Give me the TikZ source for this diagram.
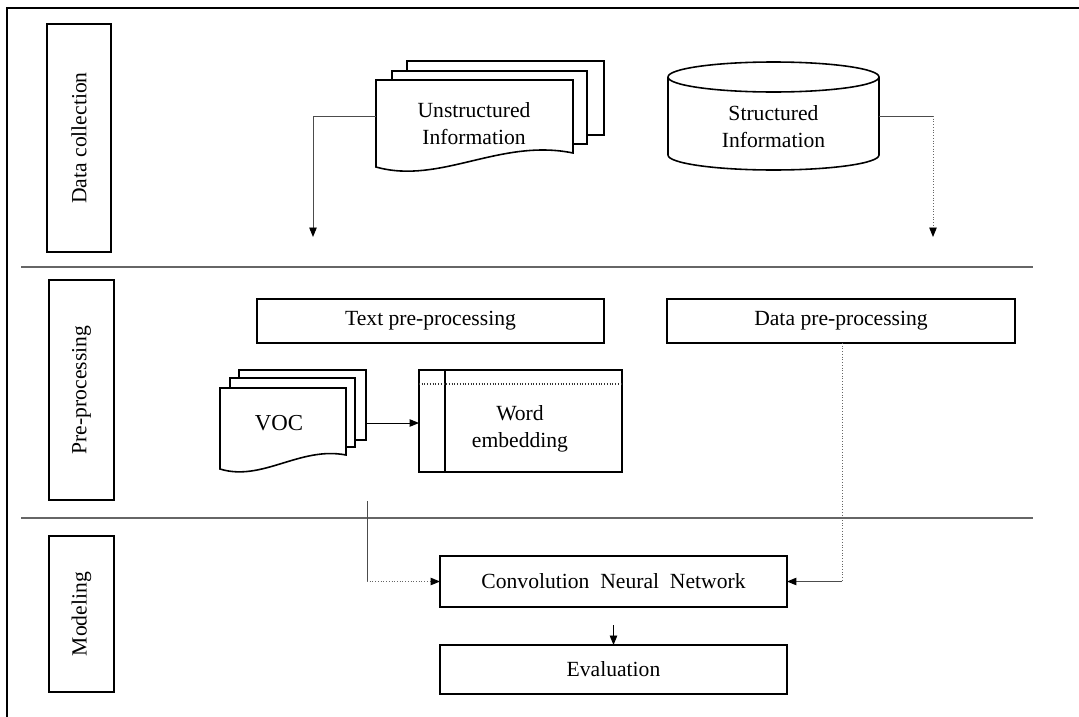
\documentclass[tikz,border=0pt]{standalone}
\usepackage{fontspec}
\setmainfont{Liberation Serif}
\usetikzlibrary{arrows.meta}
\begin{document}
\begin{tikzpicture}[x=0.02cm,y=-0.02cm,
  every node/.style={font=\rmfamily\fontsize{12.3}{15.3}\selectfont, inner sep=0pt, outer sep=0pt},
  box/.style={draw=black, line width=0.9pt, fill=white, align=center},
  sidebox/.style={draw=black, line width=0.9pt, rotate=90, minimum height=1.30cm},
  docline/.style={draw=black, line width=0.9pt, fill=white},
  sep/.style={draw=black!60, line width=0.8pt},
  conn/.style={draw=black!70, line width=0.55pt},
  dconn/.style={draw=black!60, line width=0.55pt, densely dotted},
  tip/.style={-{Triangle[length=0.19cm,width=0.15cm,color=black,fill=black]}},
  txt/.style={align=center}]
\useasboundingbox (0,0) rectangle (1079,717);
% outer frame
\draw[line width=1.1pt] (7,717) -- (7,8) -- (1079,8);
% separators
\draw[sep] (21,267) -- (1033,267);
\draw[sep] (21,518) -- (1033,518);
% side labels
\node[sidebox, minimum width=4.56cm, minimum height=1.28cm] (dc) at (79,138) {Data collection};
\node[sidebox, minimum width=4.40cm] (pp) at (81.5,390) {Pre-processing};
\node[sidebox, minimum width=3.12cm] (mod) at (81.5,614) {Modeling};
% unstructured information (document stack)
\draw[docline] (407,61) rectangle (604,135);
\draw[docline] (392,71) rectangle (587,144);
\draw[docline] (376,167) -- (376,80) -- (573,80) -- (573,153)
   .. controls (500,138) and (440,185) .. (376,167) -- cycle;
\node[minimum width=3.94cm, minimum height=1.46cm] (udoc) at (474.5,116.5) {};
\node[txt] (unstr) at (474,124) {Unstructured\\Information};
\coordinate (ua) at (313,237);
\draw[conn, tip] (udoc.west) -| (ua);
% structured information (cylinder)
\draw[docline] (668,77) -- (668,155) arc (180:0:105.5 and 15) -- (879,77);
\draw[docline] (773.5,77) ellipse (105.5 and 15);
\node[minimum width=4.22cm, minimum height=1.56cm] (cyl) at (773.5,116) {};
\node[txt] (struct) at (773.5,127) {Structured\\Information};
\coordinate (sc) at (933,116);
\coordinate (sa) at (933,237);
\draw[conn] (cyl.east) -- (sc);
\draw[dconn, tip] (sc) -- (sa);
% pre-processing boxes
\node[box, minimum width=6.94cm, minimum height=0.88cm] (tpp) at (430.5,321) {Text pre-processing};
\node[box, minimum width=6.96cm, minimum height=0.88cm] (dpp) at (841,321) {Data pre-processing};
% VOC stack
\draw[docline] (239,370) rectangle (366,440);
\draw[docline] (230,378) rectangle (355,447);
\draw[docline] (220,469) -- (220,388) -- (346,388) -- (346,455)
   .. controls (300,446) and (262,482) .. (220,469) -- cycle;
\node[txt, font=\rmfamily\fontsize{13}{16}\selectfont] (voc) at (279,423) {VOC};
\coordinate (vocE) at (366,423);
% word embedding
\node[box, minimum width=4.06cm, minimum height=2.04cm] (we) at (520.5,421) {};
\draw[line width=0.9pt] (445,370) -- (445,472);
\draw[dconn, draw=black!80, line width=0.6pt] (419,384) -- (622,384);
\node[txt] (wetext) at (520,429) {Word\\embedding};
\draw[conn, draw=black, tip] (vocE) -- (vocE -| we.west);
% modeling
\node[box, minimum width=6.94cm, minimum height=1.02cm] (cnn) at (613.5,581.5) {Convolution\ \ Neural\ \ Network};
\node[box, minimum width=6.94cm, minimum height=0.98cm] (eval) at (613.5,669.5) {Evaluation};
\coordinate (cnnb) at (613.5,625);
\draw[conn, draw=black, tip] (cnnb) -- (eval.north);
% connectors into CNN
\coordinate (vl) at (367,501);
\coordinate (vlc) at (367,581.5);
\draw[conn] (vl) -- (vlc);
\draw[dconn, tip] (vlc) -- (cnn.west);
\coordinate (dlc) at (842,581.5);
\draw[dconn] (dpp.south -| dlc) -- (dlc);
\draw[conn, tip] (dlc) -- (cnn.east);
\end{tikzpicture}
\end{document}
